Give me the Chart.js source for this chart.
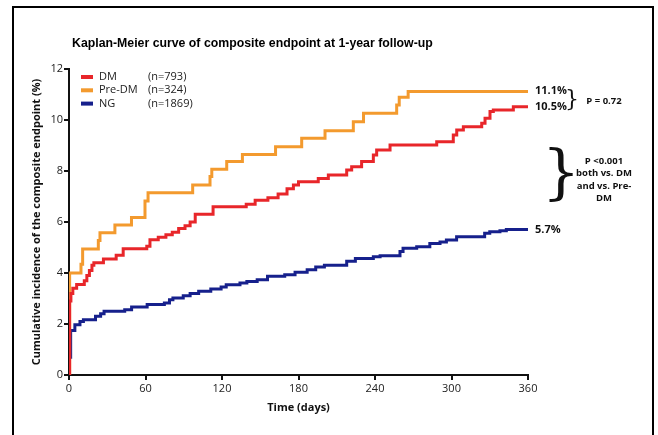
<!DOCTYPE html>
<html>
<head>
<meta charset="utf-8">
<script src="https://cdn.jsdelivr.net/npm/chart.js@4"></script>
<style>
html,body{margin:0;padding:0;background:#fff;overflow:hidden;width:658px;height:435px;}
#wrap{position:absolute;left:0;top:0;width:658px;height:435px;}
#frame{position:absolute;left:12px;top:6px;width:638px;height:440px;border:2px solid #000;pointer-events:none;}
</style>
</head>
<body>
<div id="wrap"><canvas id="c" width="658" height="435"></canvas></div>
<div id="frame"></div>
<script>
// ---- data ----
const chartTitle = "Kaplan-Meier curve of composite endpoint at 1-year follow-up";
const seriesNames = ["DM", "Pre-DM", "NG"];
const seriesN = ["(n=793)", "(n=324)", "(n=1869)"];
const seriesColors = ["#e8262a", "#f39a2e", "#16208c"];
const endLabels = ["10.5%", "11.1%", "5.7%"];
const xTicks = [0, 60, 120, 180, 240, 300, 360];
const yTicks = [0, 2, 4, 6, 8, 10, 12];

const dmDays = [0, 0.5, 1.5, 3, 6, 12, 14, 16, 18, 19.5, 27, 37, 42.5, 61, 63.5, 70, 76, 81, 86, 91, 95, 99, 113, 139, 146, 156, 164, 171, 176, 180, 195.5, 203.4, 217.8, 221.7, 229.5, 238.7, 241.3, 251.8, 288.4, 301.4, 304.1, 309.3, 323.7, 326.3, 330.2, 332.8, 348.5, 360];
const dmValues = [0, 2.9, 3.2, 3.4, 3.55, 3.7, 3.9, 4.1, 4.3, 4.4, 4.55, 4.7, 4.95, 5.05, 5.3, 5.4, 5.5, 5.6, 5.75, 5.85, 6.0, 6.3, 6.6, 6.7, 6.85, 6.95, 7.1, 7.3, 7.45, 7.58, 7.71, 7.84, 8.04, 8.17, 8.37, 8.63, 8.82, 9.02, 9.15, 9.41, 9.61, 9.74, 9.87, 10.07, 10.33, 10.39, 10.52, 10.52];

const preDays = [0, 0.5, 9.4, 10.7, 23, 24.3, 36, 49, 59.6, 62, 97, 110.6, 112, 123.7, 136, 162, 182.5, 200.8, 223, 231, 257, 259, 266, 360];
const preValues = [0, 4.0, 4.34, 4.94, 5.27, 5.58, 5.88, 6.18, 6.82, 7.15, 7.45, 7.78, 8.07, 8.37, 8.65, 8.95, 9.28, 9.58, 9.93, 10.26, 10.59, 10.89, 11.12, 11.12];

const ngDays = [0, 0.3, 1.3, 4.6, 8.6, 11.3, 20.8, 24.8, 27.5, 43.7, 49.1, 61.3, 74.8, 78.8, 81.5, 89.6, 95, 101.7, 111.2, 119.3, 123.3, 134.1, 139.5, 147.6, 155.7, 169.2, 177.3, 186.8, 193.5, 200.3, 217.8, 224.6, 238.7, 244, 259.6, 262, 272.7, 283, 291, 296, 304, 326, 330, 338, 343, 360];
const ngValues = [0, 0.7, 1.75, 1.97, 2.1, 2.17, 2.3, 2.4, 2.5, 2.56, 2.67, 2.76, 2.82, 2.95, 3.02, 3.11, 3.2, 3.28, 3.37, 3.45, 3.54, 3.61, 3.67, 3.74, 3.87, 3.93, 4.03, 4.13, 4.24, 4.3, 4.46, 4.57, 4.64, 4.68, 4.84, 4.97, 5.03, 5.16, 5.22, 5.29, 5.42, 5.56, 5.62, 5.66, 5.71, 5.71];

const pTop = "P = 0.72";
const pBottom = ["P <0.001", "both vs. DM", "and vs. Pre-", "DM"];

function toPts(xs, ys){ return xs.map((x,i)=>({x:x, y:ys[i]})); }

const annot = {
  id: 'annot',
  afterDraw(chart){
    const ctx = chart.ctx;
    const xs = chart.scales.x, ys = chart.scales.y;
    ctx.save();
    // title
    ctx.fillStyle = '#000';
    ctx.font = 'bold 12.3px "Liberation Sans", Arial, sans-serif';
    ctx.textBaseline = 'middle';
    ctx.textAlign = 'left';
    ctx.fillText(chartTitle, 72, 44);
    // legend
    const lx = 81, ly0 = 77, lstep = 13.3;
    ctx.font = '11px "Open Sans", sans-serif';
    for (let i=0;i<seriesNames.length;i++){
      const y = ly0 + i*lstep;
      ctx.fillStyle = seriesColors[i];
      ctx.fillRect(lx, y-2, 12, 4);
      ctx.fillStyle = '#222';
      ctx.fillText(seriesNames[i], 99, y);
      ctx.fillText(seriesN[i], 148, y);
    }
    // end labels
    ctx.font = 'bold 11px "Open Sans", sans-serif';
    ctx.fillStyle = '#111';
    const ends = [dmValues[dmValues.length-1], preValues[preValues.length-1], ngValues[ngValues.length-1]];
    const endOff = [0.6, -0.1, 0];
    for (let i=0;i<3;i++){
      ctx.fillText(endLabels[i], xs.getPixelForValue(360)+7, ys.getPixelForValue(ends[i])+endOff[i]);
    }
    // small brace
    ctx.font = '22px "DejaVu Serif", serif';
    ctx.textAlign = 'center';
    ctx.fillText('}', 572, 100);
    ctx.font = 'bold 9.5px "Open Sans", sans-serif';
    ctx.fillText(pTop, 604, 101);
    // big brace
    ctx.font = '60px "DejaVu Serif", serif';
    ctx.fillText('}', 561, 176);
    ctx.font = 'bold 9.5px "Open Sans", sans-serif';
    for (let i=0;i<pBottom.length;i++){
      ctx.fillText(pBottom[i], 604, 161 + i*12.4);
    }
    ctx.restore();
  }
};

const mk = (label, data, color) => ({
  label, data, borderColor: color, backgroundColor: color,
  borderWidth: 3, pointRadius: 0, stepped: 'before', fill: false, tension: 0,
  borderJoinStyle: 'miter', borderCapStyle: 'butt'
});

new Chart(document.getElementById('c'), {
  type: 'line',
  data: {
    datasets: [
      mk(seriesNames[0], toPts(dmDays, dmValues), seriesColors[0]),
      mk(seriesNames[1], toPts(preDays, preValues), seriesColors[1]),
      mk(seriesNames[2], toPts(ngDays, ngValues), seriesColors[2])
    ]
  },
  options: {
    responsive: false,
    animation: false,
    events: [],
    layout: { padding: { left: 0, right: 130, top: 69, bottom: 0 } },
    plugins: { legend: { display: false }, tooltip: { enabled: false }, title: { display: false } },
    scales: {
      x: {
        type: 'linear', min: 0, max: 360,
        afterBuildTicks: s => { s.ticks = xTicks.map(v=>({value:v})); },
        afterFit: s => { s.height = 60; },
        border: { color: '#111', width: 2 },
        grid: { drawOnChartArea: false, drawTicks: true, tickLength: 5, color: '#111', lineWidth: 2 },
        ticks: { color: '#222', font: { family: '"Open Sans", sans-serif', size: 11 }, padding: 2, maxRotation: 0 },
        title: { display: true, text: 'Time (days)', color: '#111', font: { family: '"Open Sans", sans-serif', size: 11, weight: 'bold' }, padding: { top: 0, bottom: 21 } }
      },
      y: {
        type: 'linear', min: 0, max: 12,
        afterBuildTicks: s => { s.ticks = yTicks.map(v=>({value:v})); },
        afterFit: s => { s.width = 69; },
        border: { color: '#111', width: 2 },
        grid: { drawOnChartArea: false, drawTicks: true, tickLength: 5, color: '#111', lineWidth: 2 },
        ticks: { color: '#222', font: { family: '"Open Sans", sans-serif', size: 11 }, padding: 1 },
        title: { display: true, text: 'Cumulative incidence of the composite endpoint (%)', color: '#111', font: { family: '"Open Sans", sans-serif', size: 11, weight: 'bold' }, padding: { top: 30, bottom: 0 } }
      }
    }
  },
  plugins: [annot]
});
</script>
</body>
</html>
